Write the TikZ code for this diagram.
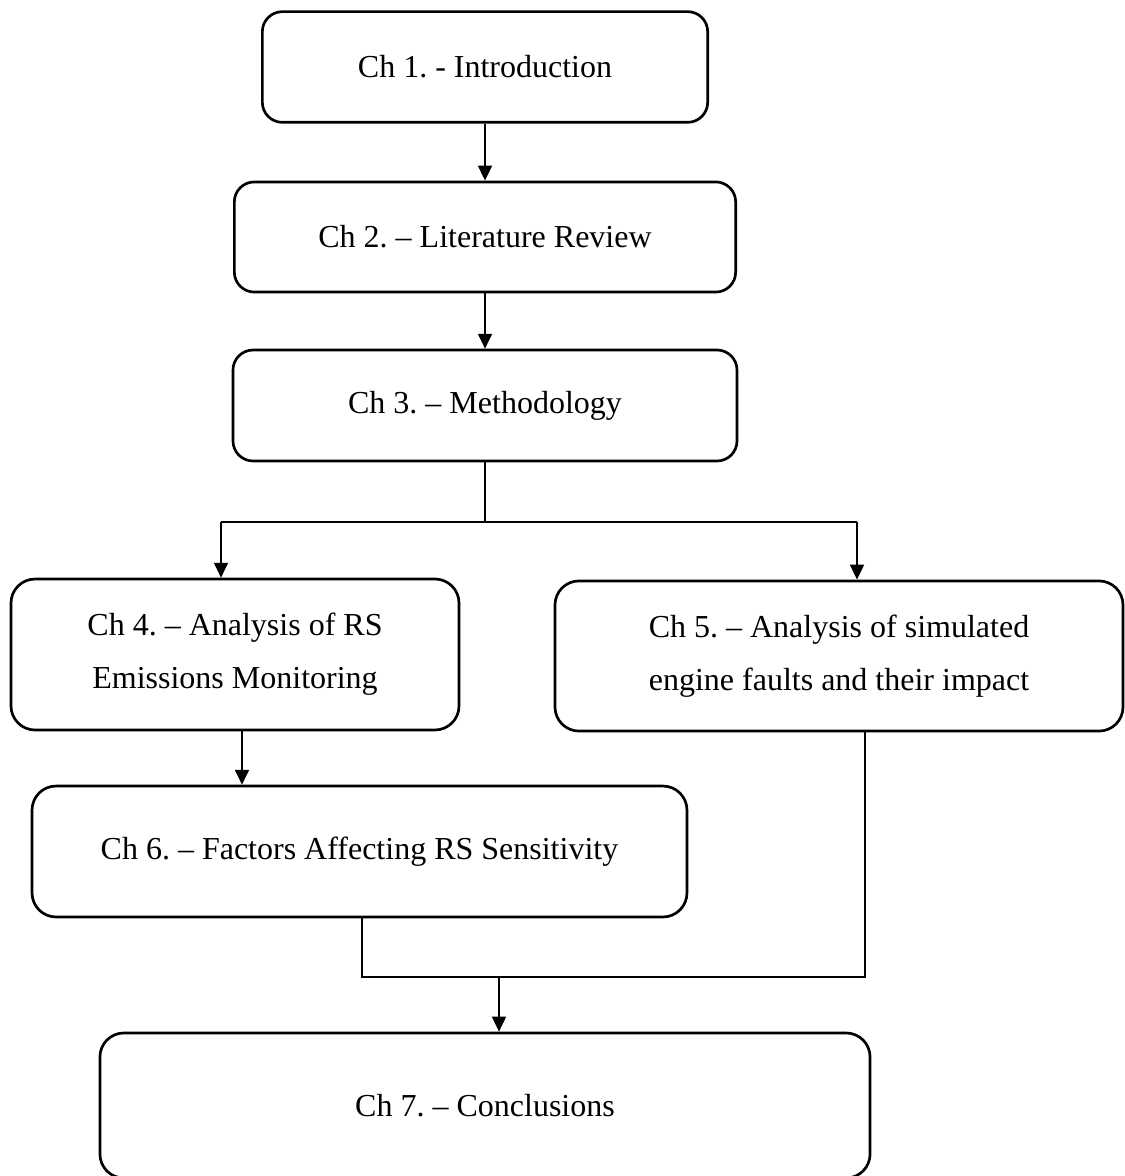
\documentclass[tikz,border=0pt]{standalone}
\usepackage{fontspec}
\setmainfont{Liberation Serif}
\usetikzlibrary{arrows.meta}
\frenchspacing

\tikzset{
  chbox/.style={draw, line width=1pt, rounded corners=7.5pt, align=center,
    font=\fontsize{12}{20}\selectfont},
  bigbox/.style={chbox, rounded corners=9pt},
  link/.style={line width=0.8pt},
  arrow/.style={link, -{Triangle[length=5.6pt, width=5.2pt]}}
}

\begin{document}
\begin{tikzpicture}[x=0.375pt, y=-0.375pt]
\useasboundingbox (0, 0) rectangle (1124, 1176);

% chapter boxes
\node[chbox, minimum width=167pt, minimum height=41.5pt] (ch1) at (485, 67) {Ch 1. - Introduction};
\node[chbox, minimum width=188pt, minimum height=41.3pt] (ch2) at (485, 237) {Ch 2. -- Literature Review};
\node[chbox, minimum width=189pt, minimum height=41.6pt] (ch3) at (485, 405.5) {Ch 3. -- Methodology};

\node[bigbox, minimum width=168pt, minimum height=56.6pt] (ch4) at (235, 654.5)
  {Ch 4. -- Analysis of RS\\Emissions Monitoring};
\node[bigbox, minimum width=213pt, minimum height=56.3pt] (ch5) at (839, 656)
  {Ch 5. -- Analysis of simulated\\engine faults and their impact};

\node[bigbox, minimum width=245.6pt, minimum height=49.1pt] (ch6) at (359.5, 851.5)
  {Ch 6. -- Factors Affecting RS Sensitivity};

\node[bigbox, minimum width=288.8pt, minimum height=54.4pt] (ch7) at (485, 1105.5) {Ch 7. -- Conclusions};

% connectors
\coordinate (fork4) at (221, 522);
\coordinate (fork5) at (857, 522);
\coordinate (merge) at (499, 977);

\draw[arrow] (ch1) -- (ch2);
\draw[arrow] (ch2) -- (ch3);

\draw[link] (ch3.south) |- (fork4);
\draw[link] (ch3.south) |- (fork5);
\draw[arrow] (fork4) -- (fork4 |- ch4.north);
\draw[arrow] (fork5) -- (fork5 |- ch5.north);

\draw[arrow] (ch4.south -| 242,0) -- (ch6.north -| 242,0);

\draw[link] (ch6.south -| 362,0) |- (merge) -| (ch5.south -| 865,0);
\draw[arrow] (merge) -- (merge |- ch7.north);

\end{tikzpicture}
\end{document}
